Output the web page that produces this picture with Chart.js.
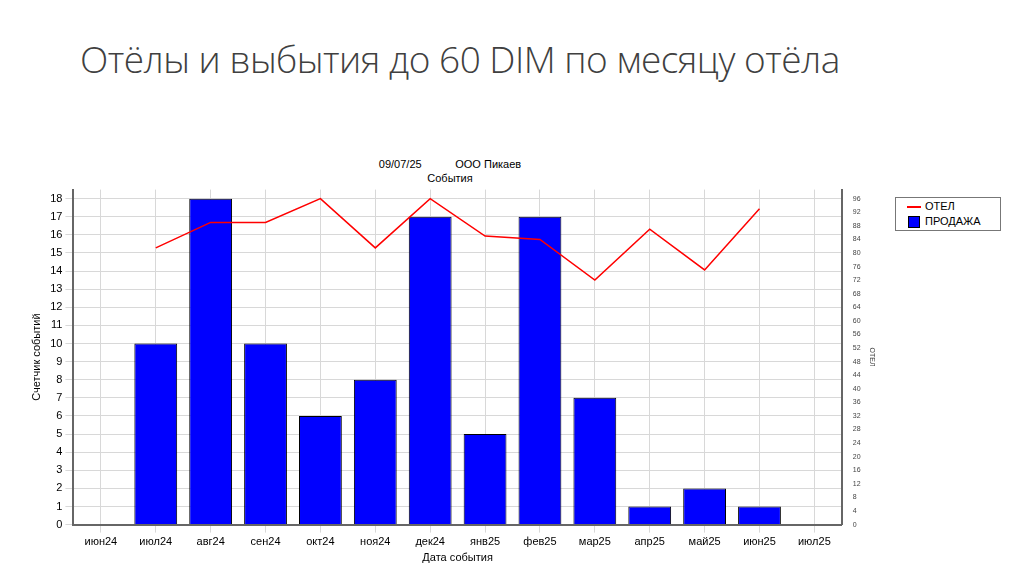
<!DOCTYPE html>
<html>
<head>
<meta charset="utf-8">
<script src="https://cdn.jsdelivr.net/npm/chart.js@4"></script>
<style>
body { margin:0; width:1024px; height:574px; background:#fff; font-family:"Open Sans", sans-serif; position:relative; overflow:hidden; }
h1 { position:absolute; left:80px; top:36px; margin:0; font-weight:300; font-size:37px; line-height:46px; color:#404040; width:800px; letter-spacing:-0.5px; }
#sub { position:absolute; left:0; width:900px; top:157px; text-align:center; font:11px "Liberation Sans", sans-serif; color:#000; line-height:14px; }
#wrap { position:absolute; left:26px; top:180px; width:854px; height:385px; }
#legend { position:absolute; left:895px; top:197px; width:98px; border:1px solid #777; font:11px "Liberation Sans", sans-serif; padding:1px 3px; line-height:15px; }
#legend span.ln { display:inline-block; width:14px; height:2px; background:#f00; vertical-align:middle; margin:0 4px 0 8px; }
#legend span.bx { display:inline-block; width:10px; height:10px; background:#00f; border:1px solid #000; vertical-align:middle; margin:0 5px 0 9px; }
</style>
</head>
<body>
<h1>Отёлы и выбытия до 60 DIM по месяцу отёла</h1>
<div id="sub">09/07/25&nbsp;&nbsp;&nbsp;&nbsp;&nbsp;&nbsp;&nbsp;&nbsp;&nbsp;&nbsp;&nbsp;ООО Пикаев<br>События</div>
<div id="wrap"><canvas id="c"></canvas></div>
<div id="legend"><div><span class="ln"></span>ОТЕЛ</div><div><span class="bx"></span>ПРОДАЖА</div></div>
<script>
var months = ['июн24','июл24','авг24','сен24','окт24','ноя24','дек24','янв25','фев25','мар25','апр25','май25','июн25','июл25'];
var sales = [null, 10, 18, 10, 6, 8, 17, 5, 17, 7, 1, 2, 1, null];
var calvings = [null, 81.5, 89, 89, 96, 81.5, 96, 85, 84, 72, 87, 75, 93, null];
var leftTicks = [0,1,2,3,4,5,6,7,8,9,10,11,12,13,14,15,16,17,18];
var rightTicks = [0,4,8,12,16,20,24,28,32,36,40,44,48,52,56,60,64,68,72,76,80,84,88,92,96];

var font = { family: 'Liberation Sans', size: 11 };
new Chart(document.getElementById('c'), {
    data: {
        labels: months,
        datasets: [{
            type: 'line',
            label: 'ОТЕЛ',
            data: calvings,
            yAxisID: 'y2',
            borderColor: '#ff0000',
            borderWidth: 1.5,
            pointRadius: 0,
            tension: 0,
            order: 0
        }, {
            type: 'bar',
            label: 'ПРОДАЖА',
            data: sales,
            yAxisID: 'y',
            backgroundColor: '#0000ff',
            borderColor: '#000',
            borderWidth: 1,
            categoryPercentage: 1,
            barPercentage: 0.78,
            order: 1
        }]
    },
    options: {
        responsive: true,
        maintainAspectRatio: false,
        animation: false,
        plugins: { legend: { display: false }, tooltip: { enabled: false } },
        layout: { padding: { top: 6, right: 0 } },
        scales: {
            x: {
                offset: true,
                grid: { color: '#d8d8d8', offset: false, drawTicks: true },
                border: { color: '#666', width: 2 },
                ticks: { font: font, color: '#000' },
                title: { display: true, text: 'Дата события', font: font, color: '#000', padding: 0 }
            },
            y: {
                position: 'left',
                min: 0,
                max: 18.5,
                afterBuildTicks: function (ax) { ax.ticks = leftTicks.map(function (v) { return { value: v }; }); },
                ticks: { font: font, color: '#000' },
                grid: { color: '#d8d8d8' },
                border: { color: '#666', width: 2 },
                title: { display: true, text: 'Счетчик событий', font: font, color: '#000' }
            },
            y2: {
                position: 'right',
                min: 0,
                max: 98.67,
                afterBuildTicks: function (ax) { ax.ticks = rightTicks.map(function (v) { return { value: v }; }); },
                ticks: { font: { family: 'Liberation Sans', size: 7 }, color: '#444' },
                grid: { display: false },
                border: { color: '#666', width: 2 },
                title: { display: true, text: 'ОТЕЛ', font: { family: 'Liberation Sans', size: 7 }, color: '#444' }
            }
        }
    }
});
</script>
</body>
</html>
